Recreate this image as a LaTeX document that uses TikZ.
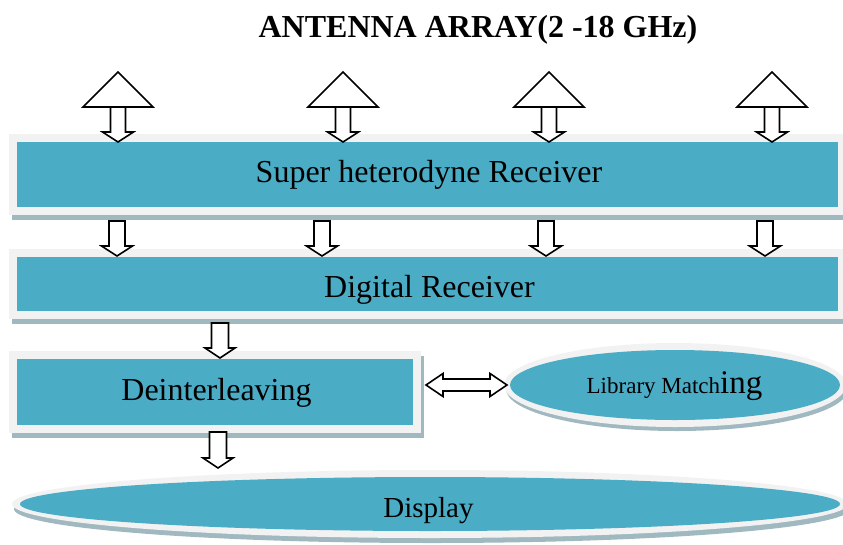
\documentclass[tikz,border=0pt]{standalone}
\usepackage{fontspec}
\setmainfont{Liberation Serif}
\definecolor{tealfill}{RGB}{75,172,198}
\definecolor{framegray}{RGB}{242,242,242}
\definecolor{shadgray}{RGB}{160,184,192}
\tikzset{
  panel/.style={fill=tealfill, draw=framegray, line width=8pt, inner sep=0pt},
  blk/.style={draw=black, fill=white, line width=1.6pt, line join=miter},
  lbl/.style={anchor=base, inner sep=0pt, font=\fontsize{32}{38}\selectfont},
}
\newcommand\blkdown[5]{% x, ytop, ytip, shaft half, head half
  \draw[blk] (#1-#4,#2) -- (#1+#4,#2) -- (#1+#4,#3-10) -- (#1+#5,#3-10) -- (#1,#3)
    -- (#1-#5,#3-10) -- (#1-#4,#3-10) -- cycle;}
\newcommand\antenna[1]{%
  \draw[blk] (#1,72) -- (#1+35,107) -- (#1-35,107) -- cycle;
  \blkdown{#1}{107}{142}{7.5}{15.5}}
\begin{document}
\begin{tikzpicture}[x=1pt,y=-1pt]
\useasboundingbox (0,0) rectangle (843,544);
\clip (0,0) rectangle (843,544);
% shadows
\fill[shadgray] (12,139) rectangle (849,220);
\fill[shadgray] (12,254) rectangle (849,324);
\fill[shadgray] (12,356) rectangle (424,438);
\fill[shadgray] (432,509) ellipse [x radius=418, y radius=34];
\fill[shadgray] (677,389) ellipse [x radius=171, y radius=42];
% panels
\node[panel, minimum width=829pt, minimum height=73pt] (b1) at (427.5,174.5) {};
\node[panel, minimum width=829pt, minimum height=62pt] (b2) at (427.5,284) {};
\node[panel, minimum width=404pt, minimum height=74pt] (b3) at (215,392) {};
\fill[framegray] (430,504) ellipse [x radius=418, y radius=34];
\fill[tealfill] (430,504) ellipse [x radius=410, y radius=27];
\fill[framegray] (675,385) ellipse [x radius=171, y radius=42];
\fill[tealfill] (675,385) ellipse [x radius=165, y radius=35];
\coordinate (disp) at (430,504);
\coordinate (lib) at (675,385);
% texts
\node[anchor=base, inner sep=0pt, font=\bfseries\fontsize{32}{38}\selectfont] (title) at (478,37) {ANTENNA ARRAY(2 -18 GHz)};
\node[lbl] (t1) at (429,182) {Super heterodyne Receiver};
\node[lbl] (t2) at (429.5,297) {Digital Receiver};
\node[lbl] (t3) at (216.5,400) {Deinterleaving};
\node[anchor=base, inner sep=0pt] (t4) at (674.5,393) {{\fontsize{23}{27}\selectfont Library Match}{\fontsize{33}{38}\selectfont ing}};
\node[lbl, font=\fontsize{29}{34}\selectfont] (t5) at (428.5,517) {Display};
% antennas
\antenna{118}
\antenna{343}
\antenna{549}
\antenna{772}
% arrows between stages
\blkdown{117}{221}{256}{8}{15.5}
\blkdown{322}{221}{256}{8}{15.5}
\blkdown{546}{221}{256}{8}{15.5}
\blkdown{765}{221}{256}{8}{15.5}
\blkdown{220}{323}{358}{8.5}{15}
\blkdown{218}{432}{468}{8.5}{15}
% double arrow
\draw[blk] (426,385) -- (443,373.5) -- (443,379) -- (490,379) -- (490,373.5) -- (507,385)
  -- (490,396.5) -- (490,391) -- (443,391) -- (443,396.5) -- cycle;
\end{tikzpicture}
\end{document}
